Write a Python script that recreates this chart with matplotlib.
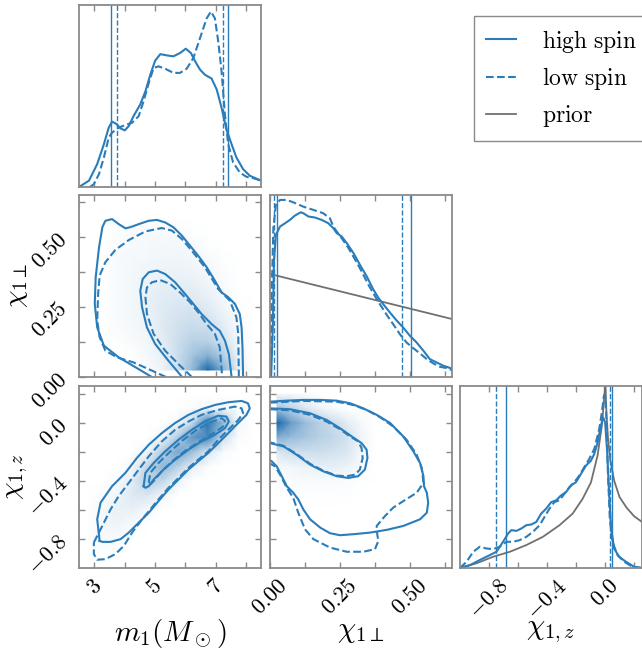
import matplotlib
matplotlib.use('Agg')
import numpy as np
import matplotlib.pyplot as plt
from matplotlib.colors import LinearSegmentedColormap
from matplotlib.lines import Line2D

plt.rcParams['mathtext.fontset'] = 'cm'
plt.rcParams['font.family'] = ['DejaVu Serif']

blue = '#2a7dba'
grey = '#707070'
frame = '#8a8a8a'

m1_lim = (2.5, 8.5)
chip_lim = (0.0, 0.65)
chiz_lim = (-1.0, 0.255)

m1_ticks = [3, 4, 5, 6, 7, 8]
m1_labels = ['$3$', '', '$5$', '', '$7$', '']
chip_ticks = [0.0, 0.125, 0.25, 0.375, 0.5, 0.625]
chip_labels = ['$0.00$', '', '$0.25$', '', '$0.50$', '']
chiz_ticks = [-0.8, -0.6, -0.4, -0.2, 0.0, 0.2]
chiz_labels = ['$-0.8$', '', '$-0.4$', '', '$0.0$', '']

# ---- 1D marginals (heights as fraction of panel) ----
m1_hi_x = [2.5, 2.83, 3.10, 3.32, 3.48, 3.59, 3.72, 3.87, 4.01, 4.14, 4.30, 4.52, 4.69, 4.85, 5.01, 5.18,
           5.40, 5.61, 5.83, 6.02, 6.19, 6.33, 6.49, 6.65, 6.87, 7.04, 7.20, 7.36, 7.53, 7.69, 7.91, 8.13, 8.50]
m1_hi_y = [0, 0.035, 0.126, 0.235, 0.326, 0.359, 0.348, 0.322, 0.311, 0.335, 0.390, 0.454, 0.526, 0.617, 0.694, 0.730,
           0.723, 0.718, 0.736, 0.760, 0.736, 0.690, 0.645, 0.617, 0.596, 0.536, 0.435, 0.317, 0.235, 0.162, 0.098, 0.062, 0.035]
m1_lo_x = [2.86, 2.99, 3.16, 3.32, 3.48, 3.59, 3.81, 4.03, 4.25, 4.47, 4.63, 4.80, 4.96, 5.12, 5.34, 5.61,
           5.83, 6.05, 6.27, 6.49, 6.71, 6.85, 6.98, 7.09, 7.20, 7.31, 7.42, 7.58, 7.80, 8.02, 8.24, 8.50]
m1_lo_y = [0, 0.016, 0.071, 0.162, 0.271, 0.299, 0.326, 0.341, 0.353, 0.390, 0.472, 0.572, 0.654, 0.663, 0.650, 0.627,
           0.627, 0.650, 0.709, 0.818, 0.927, 0.964, 0.927, 0.800, 0.636, 0.399, 0.235, 0.135, 0.080, 0.056, 0.049, 0.035]
m1_ci_hi = [3.54, 7.42]
m1_ci_lo = [3.76, 7.25]

chip_hi_x = [0.004, 0.010, 0.014, 0.021, 0.036, 0.054, 0.071, 0.089, 0.110, 0.119, 0.137, 0.161, 0.185, 0.208, 0.226,
             0.238, 0.256, 0.274, 0.298, 0.321, 0.345, 0.369, 0.387, 0.405, 0.429, 0.452, 0.476, 0.500, 0.524,
             0.548, 0.571, 0.595, 0.619, 0.654]
chip_hi_y = [0, 0.271, 0.636, 0.781, 0.827, 0.845, 0.863, 0.887, 0.905, 0.900, 0.882, 0.876, 0.863, 0.845, 0.818,
             0.791, 0.772, 0.736, 0.681, 0.617, 0.554, 0.481, 0.435, 0.399, 0.353, 0.311, 0.271, 0.226, 0.189,
             0.144, 0.098, 0.080, 0.062, 0.044]
chip_lo_x = [0.002, 0.006, 0.012, 0.021, 0.036, 0.060, 0.083, 0.119, 0.155, 0.190, 0.214, 0.226, 0.238, 0.256, 0.280,
             0.304, 0.327, 0.351, 0.375, 0.393, 0.417, 0.440, 0.464, 0.488, 0.512, 0.536, 0.560, 0.583, 0.607,
             0.631, 0.654]
chip_lo_y = [0, 0.454, 0.818, 0.945, 0.973, 0.973, 0.960, 0.936, 0.918, 0.900, 0.872, 0.827, 0.800, 0.763, 0.709,
             0.645, 0.581, 0.508, 0.444, 0.399, 0.341, 0.290, 0.235, 0.189, 0.158, 0.129, 0.098, 0.075, 0.056,
             0.049, 0.035]
chip_prior_x = [0.0, 0.654]
chip_prior_y = [0.566, 0.317]
chip_ci_hi = [0.024, 0.504]
chip_ci_lo = [0.014, 0.470]

chiz_hi_x = [-1.0, -0.931, -0.863, -0.794, -0.749, -0.703, -0.669, -0.646, -0.611, -0.577, -0.543, -0.509, -0.474,
             -0.440, -0.406, -0.371, -0.337, -0.303, -0.269, -0.234, -0.200, -0.166, -0.131, -0.097, -0.074,
             -0.051, -0.029, -0.013, 0.001, 0.015, 0.029, 0.042, 0.063, 0.097, 0.143, 0.200, 0.255]
chiz_hi_y = [0, 0.016, 0.044, 0.071, 0.089, 0.144, 0.189, 0.208, 0.204, 0.217, 0.235, 0.239, 0.253,
             0.299, 0.326, 0.362, 0.372, 0.399, 0.417, 0.454, 0.472, 0.517, 0.563, 0.590, 0.627,
             0.690, 0.781, 0.827, 0.800, 0.636, 0.399, 0.217, 0.107, 0.062, 0.035, 0.007, 0]
chiz_lo_x = [-1.0, -0.954, -0.909, -0.863, -0.817, -0.771, -0.726, -0.680, -0.634, -0.589, -0.543, -0.497, -0.451,
             -0.417, -0.383, -0.349, -0.314, -0.280, -0.246, -0.211, -0.177, -0.143, -0.109, -0.074, -0.040,
             -0.022, -0.008, -0.001, 0.008, 0.019, 0.033, 0.051, 0.086, 0.131, 0.189, 0.255]
chiz_lo_y = [0, 0.035, 0.089, 0.117, 0.107, 0.104, 0.117, 0.144, 0.144, 0.153, 0.171, 0.199, 0.235,
             0.281, 0.326, 0.362, 0.372, 0.408, 0.444, 0.472, 0.508, 0.554, 0.599, 0.654, 0.763,
             0.854, 0.945, 0.954, 0.854, 0.545, 0.271, 0.144, 0.071, 0.035, 0.007, 0]
chiz_prior_x = [-1.0, -0.886, -0.771, -0.657, -0.543, -0.429, -0.314, -0.223, -0.154, -0.097, -0.051, -0.022,
                -0.003, 0.0, 0.004, 0.010, 0.020, 0.035, 0.063, 0.100, 0.150, 0.200, 0.255]
chiz_prior_y = [0, 0.026, 0.062, 0.089, 0.126, 0.171, 0.235, 0.299, 0.381, 0.470, 0.620, 0.781,
                0.960, 1.05, 0.980, 0.850, 0.720, 0.600, 0.480, 0.390, 0.330, 0.285, 0.253]
chiz_ci_hi = [-0.680, 0.051]
chiz_ci_lo = [-0.749, 0.033]

# ---- 2D: m1 vs chi_perp ----
a_out_hi_x = [4.90, 4.36, 3.81, 3.32, 3.10, 3.02, 3.05, 3.16, 3.27, 3.37, 3.59, 3.81, 4.03, 4.19, 4.47, 4.80, 5.07,
              5.34, 5.61, 5.89, 6.16, 6.43, 6.71, 6.98, 7.20, 7.42, 7.64, 7.80, 7.86, 7.89, 7.91]
a_out_hi_y = [0.0, 0.035, 0.070, 0.112, 0.177, 0.261, 0.356, 0.463, 0.535, 0.558, 0.564, 0.546, 0.531, 0.535, 0.546,
              0.558, 0.561, 0.552, 0.535, 0.505, 0.469, 0.433, 0.392, 0.344, 0.302, 0.285, 0.261, 0.225, 0.177, 0.106, 0.0]
a_out_lo_x = [5.37, 4.90, 4.30, 3.76, 3.37, 3.18, 3.10, 3.13, 3.18, 3.37, 3.70, 4.14, 4.69, 5.23, 5.56, 5.89, 6.22,
              6.65, 7.09, 7.47, 7.69, 7.75, 7.77]
a_out_lo_y = [0, 0.023, 0.052, 0.070, 0.094, 0.142, 0.201, 0.296, 0.362, 0.410, 0.454, 0.489, 0.520, 0.532, 0.523,
              0.493, 0.451, 0.392, 0.314, 0.273, 0.213, 0.154, 0]
a_in_hi_x = [5.90, 5.45, 5.01, 4.74, 4.58, 4.52, 4.60, 4.80, 5.07, 5.34, 5.67, 6.00, 6.27, 6.54, 6.87, 7.14, 7.31,
             7.44, 7.53]
a_in_hi_y = [0, 0.058, 0.118, 0.177, 0.249, 0.308, 0.350, 0.374, 0.380, 0.368, 0.338, 0.296, 0.261, 0.225, 0.189,
             0.165, 0.130, 0.082, 0]
a_in_lo_x = [6.22, 5.78, 5.34, 4.96, 4.74, 4.69, 4.74, 4.90, 5.18, 5.51, 5.83, 6.16, 6.43, 6.71, 6.98, 7.14, 7.22]
a_in_lo_y = [0, 0.046, 0.094, 0.154, 0.225, 0.285, 0.320, 0.338, 0.346, 0.332, 0.302, 0.267, 0.231, 0.189, 0.154,
             0.106, 0]
a_grid_x = [2.75, 3.25, 3.75, 4.25, 4.75, 5.25, 5.75, 6.25, 6.75, 7.25, 7.75, 8.25]
a_grid_y = [0.625, 0.575, 0.525, 0.475, 0.425, 0.375, 0.325, 0.275, 0.225, 0.175, 0.125, 0.075, 0.025]
a_dens = [
    [0, 0, 0, 0, 0, 0, 0, 0, 0, 0, 0, 0],
    [0, 0, 0, 0, 0, 0, 0, 0, 0, 0, 0, 0],
    [0, 0, .01, .02, .03, .03, .02, .01, 0, 0, 0, 0],
    [0, 0, .02, .03, .04, .05, .04, .03, .01, 0, 0, 0],
    [0, 0, .03, .04, .05, .06, .06, .05, .03, .01, 0, 0],
    [0, 0, .03, .05, .07, .08, .08, .07, .04, .02, 0, 0],
    [0, 0, .03, .05, .08, .10, .11, .10, .07, .03, 0, 0],
    [0, 0, .03, .05, .09, .12, .14, .14, .10, .05, .01, 0],
    [0, 0, .03, .05, .08, .13, .17, .18, .15, .08, .02, 0],
    [0, 0, .02, .04, .07, .13, .19, .23, .21, .12, .03, 0],
    [0, 0, .01, .03, .05, .11, .21, .29, .30, .19, .04, 0],
    [0, 0, 0, .01, .04, .09, .21, .38, .50, .32, .07, 0],
    [0, 0, 0, 0, .02, .07, .19, .45, .95, .50, .10, 0],
]

# ---- 2D: m1 vs chi_z ----
b_out_hi_x = [3.18, 3.10, 3.21, 3.59, 4.03, 4.41, 4.80, 5.23, 5.67, 6.11, 6.54, 6.98, 7.42, 7.86, 8.07, 8.13, 8.02,
              7.75, 7.42, 7.09, 6.76, 6.43, 6.11, 5.78, 5.45, 5.12, 4.80, 4.47, 4.14, 3.87, 3.54, 3.27, 3.18]
b_out_hi_y = [-0.813, -0.664, -0.550, -0.436, -0.344, -0.241, -0.150, -0.070, 0.0, 0.056, 0.095, 0.124, 0.143,
              0.152, 0.136, 0.101, 0.056, 0.0, -0.070, -0.139, -0.207, -0.264, -0.321, -0.390, -0.459, -0.539,
              -0.619, -0.687, -0.756, -0.801, -0.820, -0.820, -0.813]
b_out_lo_x = [2.99, 3.27, 3.54, 3.81, 4.14, 4.47, 4.80, 5.23, 5.67, 6.11, 6.54, 7.09, 7.64, 7.86, 7.91, 7.75, 7.42,
              7.09, 6.76, 6.43, 6.11, 5.78, 5.45, 5.12, 4.85, 4.58, 4.25, 3.98, 3.70, 3.37, 3.10, 2.99, 2.99]
b_out_lo_y = [-0.824, -0.709, -0.596, -0.504, -0.413, -0.321, -0.230, -0.127, -0.047, 0.010, 0.056, 0.090, 0.113,
              0.101, 0.067, 0.021, -0.047, -0.116, -0.196, -0.253, -0.309, -0.379, -0.447, -0.527, -0.596, -0.664,
              -0.756, -0.847, -0.904, -0.939, -0.943, -0.904, -0.824]
b_in_hi_x = [4.63, 4.69, 4.96, 5.34, 5.78, 6.22, 6.65, 7.09, 7.36, 7.44, 7.31, 6.98, 6.54, 6.11, 5.67, 5.29, 4.96,
             4.80, 4.69, 4.63]
b_in_hi_y = [-0.436, -0.344, -0.276, -0.196, -0.116, -0.047, 0.011, 0.050, 0.044, 0.010, -0.036, -0.081, -0.127,
             -0.184, -0.253, -0.321, -0.390, -0.436, -0.447, -0.436]
b_in_lo_x = [4.80, 4.85, 5.12, 5.51, 5.94, 6.38, 6.82, 7.20, 7.31, 7.25, 6.93, 6.49, 6.05, 5.61, 5.23, 4.96, 4.85,
             4.80]
b_in_lo_y = [-0.413, -0.344, -0.276, -0.196, -0.116, -0.047, 0.004, 0.033, 0.017, -0.024, -0.070, -0.127, -0.184,
             -0.257, -0.333, -0.401, -0.424, -0.413]
b_grid_x = [2.75, 3.25, 3.75, 4.25, 4.75, 5.25, 5.75, 6.25, 6.75, 7.25, 7.75, 8.25]
b_grid_y = [0.2, 0.1, 0.0, -0.1, -0.2, -0.3, -0.4, -0.5, -0.6, -0.7, -0.8, -0.9]
b_dens = [
    [0, 0, 0, 0, 0, 0, 0, 0, 0, 0, 0, 0],
    [0, 0, 0, 0, 0, 0, 0, .02, .05, .06, .02, 0],
    [0, 0, 0, 0, 0, 0, .04, .25, .85, .45, .05, 0],
    [0, 0, 0, 0, 0, .06, .32, .65, .75, .20, .02, 0],
    [0, 0, 0, 0, .06, .32, .55, .40, .15, .03, 0, 0],
    [0, 0, 0, .04, .25, .45, .30, .10, .02, 0, 0, 0],
    [0, 0, .03, .12, .30, .25, .08, 0, 0, 0, 0, 0],
    [0, .02, .06, .14, .15, .06, 0, 0, 0, 0, 0, 0],
    [0, .04, .09, .09, .04, 0, 0, 0, 0, 0, 0, 0],
    [0, .05, .07, .03, 0, 0, 0, 0, 0, 0, 0, 0],
    [0, .04, .03, 0, 0, 0, 0, 0, 0, 0, 0, 0],
    [0, .01, .01, 0, 0, 0, 0, 0, 0, 0, 0, 0],
]

# ---- 2D: chi_perp vs chi_z ----
c_out_hi_x = [0.0, 0.060, 0.119, 0.179, 0.238, 0.286, 0.333, 0.381, 0.429, 0.476, 0.512, 0.536, 0.548, 0.550, 0.560,
              0.565, 0.560, 0.536, 0.476, 0.417, 0.357, 0.298, 0.250, 0.214, 0.179, 0.143, 0.119, 0.101, 0.083,
              0.060, 0.042, 0.024, 0.006, 0.0]
c_out_hi_y = [0.147, 0.154, 0.159, 0.159, 0.154, 0.136, 0.101, 0.056, 0.0, -0.093, -0.196, -0.276, -0.367, -0.436,
              -0.481, -0.550, -0.619, -0.664, -0.710, -0.737, -0.756, -0.767, -0.774, -0.760, -0.721, -0.664,
              -0.596, -0.527, -0.481, -0.436, -0.367, -0.299, -0.264, -0.257]
c_out_lo_x = [0.0, 0.119, 0.238, 0.298, 0.345, 0.393, 0.440, 0.488, 0.524, 0.542, 0.548, 0.524, 0.476, 0.440, 0.411,
              0.381, 0.383, 0.387, 0.375, 0.333, 0.274, 0.214, 0.155, 0.125, 0.101, 0.083, 0.060, 0.036, 0.018, 0.0]
c_out_lo_y = [0.140, 0.152, 0.147, 0.124, 0.090, 0.040, -0.024, -0.116, -0.219, -0.310, -0.413, -0.481, -0.539,
              -0.584, -0.641, -0.710, -0.767, -0.813, -0.870, -0.888, -0.888, -0.859, -0.801, -0.733, -0.619,
              -0.516, -0.447, -0.356, -0.299, -0.280]
c_in_hi_x = [0.0, 0.071, 0.143, 0.202, 0.250, 0.292, 0.327, 0.345, 0.348, 0.339, 0.315, 0.280, 0.238, 0.190, 0.143,
             0.095, 0.048, 0.0]
c_in_hi_y = [0.101, 0.095, 0.067, 0.021, -0.036, -0.093, -0.139, -0.184, -0.241, -0.321, -0.367, -0.379, -0.367,
             -0.333, -0.287, -0.219, -0.161, -0.139]
c_in_lo_x = [0.0, 0.071, 0.143, 0.202, 0.250, 0.286, 0.315, 0.327, 0.331, 0.321, 0.304, 0.274, 0.238, 0.190, 0.143,
             0.095, 0.048, 0.0]
c_in_lo_y = [0.095, 0.087, 0.056, 0.010, -0.043, -0.093, -0.127, -0.173, -0.241, -0.321, -0.356, -0.367, -0.363,
             -0.329, -0.281, -0.214, -0.157, -0.134]
c_grid_x = [0.025, 0.075, 0.125, 0.175, 0.225, 0.275, 0.325, 0.375, 0.425, 0.475, 0.525, 0.575, 0.625]
c_grid_y = [0.2, 0.1, 0.0, -0.1, -0.2, -0.3, -0.4, -0.5, -0.6]
c_dens = [
    [.05, .04, .02, 0, 0, 0, 0, 0, 0, 0, 0, 0, 0],
    [.40, .28, .16, .08, .03, 0, 0, 0, 0, 0, 0, 0, 0],
    [.95, .62, .42, .30, .22, .12, .04, 0, 0, 0, 0, 0, 0],
    [.50, .42, .36, .30, .25, .18, .07, 0, 0, 0, 0, 0, 0],
    [.15, .20, .20, .20, .18, .15, .05, 0, 0, 0, 0, 0, 0],
    [.04, .06, .08, .10, .10, .08, .03, 0, 0, 0, 0, 0, 0],
    [0, .02, .03, .03, .03, .02, .01, 0, 0, 0, 0, 0, 0],
    [0, 0, .01, .01, .01, .01, 0, 0, 0, 0, 0, 0, 0],
    [0, 0, 0, 0, 0, 0, 0, 0, 0, 0, 0, 0, 0],
]

cmap = LinearSegmentedColormap.from_list('dens', ['#ffffff', '#0a60a6'])

W, H = 642, 651
fig = plt.figure(figsize=(W / 100, H / 100), dpi=100)
cols = [79, 270, 460]
rows = [5, 195, 386]
size = 182


def _axes(r, c):
    return fig.add_axes([cols[c] / W, 1 - (rows[r] + size) / H, min(size, W - cols[c]) / W, size / H])


def _style(ax):
    for s in ax.spines.values():
        s.set_color(frame)
        s.set_linewidth(1.3)
    ax.tick_params(direction='in', top=True, right=True, length=4, width=1, color=frame,
                   labelsize=16, pad=5)


def _xaxis(ax, lim, ticks, labels, show):
    ax.set_xlim(lim)
    ax.set_xticks(ticks)
    if show:
        ax.set_xticklabels(labels, rotation=45)
    else:
        ax.set_xticklabels([])


def _yaxis(ax, lim, ticks, labels, show):
    ax.set_ylim(lim)
    ax.set_yticks(ticks)
    if show:
        ax.set_yticklabels(labels, rotation=45)
    else:
        ax.set_yticklabels([])


def _hist1d(ax, xh, yh, xl, yl, ci_h, ci_l):
    ax.plot(xh, yh, color=blue, lw=1.5)
    ax.plot(xl, yl, color=blue, lw=1.5, ls='--')
    for v in ci_h:
        ax.axvline(v, color=blue, lw=1.0)
    for v in ci_l:
        ax.axvline(v, color=blue, lw=1.0, ls='--')
    ax.set_ylim(0, 1)
    ax.set_yticks([])


def _dens2d(ax, gx, gy, d):
    X, Y = np.meshgrid(gx, gy)
    ax.pcolormesh(X, Y, np.array(d), shading='gouraud', cmap=cmap, vmin=0, vmax=1, zorder=0)


# top-left: m1
ax = _axes(0, 0)
_hist1d(ax, m1_hi_x, m1_hi_y, m1_lo_x, m1_lo_y, m1_ci_hi, m1_ci_lo)
_xaxis(ax, m1_lim, m1_ticks, m1_labels, False)
_style(ax)
ax.tick_params(left=False, right=False)

# m1 vs chi_perp
ax = _axes(1, 0)
_dens2d(ax, a_grid_x, a_grid_y, a_dens)
ax.plot(a_out_hi_x, a_out_hi_y, color=blue, lw=1.5)
ax.plot(a_in_hi_x, a_in_hi_y, color=blue, lw=1.5)
ax.plot(a_out_lo_x, a_out_lo_y, color=blue, lw=1.5, ls='--')
ax.plot(a_in_lo_x, a_in_lo_y, color=blue, lw=1.5, ls='--')
_xaxis(ax, m1_lim, m1_ticks, m1_labels, False)
_yaxis(ax, chip_lim, chip_ticks, chip_labels, True)
_style(ax)
ax.set_ylabel(r'$\chi_{1\perp}$', fontsize=20)
ax.yaxis.set_label_coords(-0.27, 0.5)

# chi_perp 1D
ax = _axes(1, 1)
ax.plot(chip_prior_x, chip_prior_y, color=grey, lw=1.3)
_hist1d(ax, chip_hi_x, chip_hi_y, chip_lo_x, chip_lo_y, chip_ci_hi, chip_ci_lo)
_xaxis(ax, chip_lim, chip_ticks, chip_labels, False)
_style(ax)
ax.tick_params(left=False, right=False)

# m1 vs chi_z
ax = _axes(2, 0)
_dens2d(ax, b_grid_x, b_grid_y, b_dens)
ax.plot(b_out_hi_x, b_out_hi_y, color=blue, lw=1.5)
ax.plot(b_in_hi_x, b_in_hi_y, color=blue, lw=1.5)
ax.plot(b_out_lo_x, b_out_lo_y, color=blue, lw=1.5, ls='--')
ax.plot(b_in_lo_x, b_in_lo_y, color=blue, lw=1.5, ls='--')
_xaxis(ax, m1_lim, m1_ticks, m1_labels, True)
_yaxis(ax, chiz_lim, chiz_ticks, chiz_labels, True)
_style(ax)
ax.set_ylabel(r'$\chi_{1,z}$', fontsize=20)
ax.yaxis.set_label_coords(-0.27, 0.5)
ax.set_xlabel(r'$m_1(M_\odot)$', fontsize=21)
ax.xaxis.set_label_coords(0.5, -0.27)

# chi_perp vs chi_z
ax = _axes(2, 1)
_dens2d(ax, c_grid_x, c_grid_y, c_dens)
ax.plot(c_out_hi_x, c_out_hi_y, color=blue, lw=1.5)
ax.plot(c_in_hi_x, c_in_hi_y, color=blue, lw=1.5)
ax.plot(c_out_lo_x, c_out_lo_y, color=blue, lw=1.5, ls='--')
ax.plot(c_in_lo_x, c_in_lo_y, color=blue, lw=1.5, ls='--')
_xaxis(ax, chip_lim, chip_ticks, chip_labels, True)
_yaxis(ax, chiz_lim, chiz_ticks, chiz_labels, False)
_style(ax)
ax.set_xlabel(r'$\chi_{1\perp}$', fontsize=21)
ax.xaxis.set_label_coords(0.5, -0.27)

# chi_z 1D
ax = _axes(2, 2)
ax.plot(chiz_prior_x, chiz_prior_y, color=grey, lw=1.3)
_hist1d(ax, chiz_hi_x, chiz_hi_y, chiz_lo_x, chiz_lo_y, chiz_ci_hi, chiz_ci_lo)
_xaxis(ax, chiz_lim, chiz_ticks, chiz_labels, True)
_style(ax)
ax.tick_params(left=False, right=False)
ax.set_xlabel(r'$\chi_{1,z}$', fontsize=21)
ax.xaxis.set_label_coords(0.5, -0.27)

handles = [Line2D([], [], color=blue, lw=1.5),
           Line2D([], [], color=blue, lw=1.5, ls='--'),
           Line2D([], [], color=grey, lw=1.3)]
names = [r'$\mathrm{high\ spin}$', r'$\mathrm{low\ spin}$', r'$\mathrm{prior}$']
leg = fig.legend(handles, names, loc='upper left', bbox_to_anchor=(462 / W, 1 - 4 / H),
                 fontsize=17, frameon=True, fancybox=False, framealpha=1,
                 handlelength=1.3, handletextpad=1.1, labelspacing=0.45, borderpad=0.5)
leg.get_frame().set_edgecolor(frame)
leg.get_frame().set_linewidth(1.0)

fig.savefig('out.png', dpi=100)
